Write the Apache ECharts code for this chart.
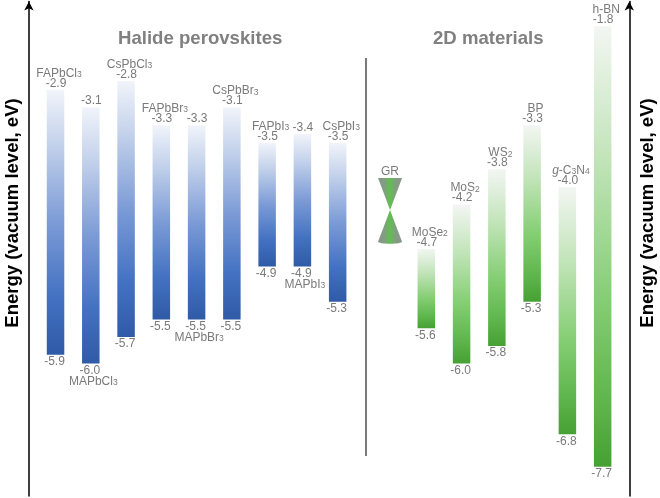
<!DOCTYPE html>
<html>
<head>
<meta charset="utf-8">
<style>html,body{margin:0;padding:0;background:#fff}#c{width:660px;height:498px}</style>
<script src="https://cdn.jsdelivr.net/npm/echarts@6/dist/echarts.min.js"></script>
</head>
<body>
<div id="c"></div>
<script>
// Halide perovskites
const perovskiteNames = ['FAPbCl{s|3}','MAPbCl{s|3}','CsPbCl{s|3}','FAPbBr{s|3}','MAPbBr{s|3}','CsPbBr{s|3}','FAPbI{s|3}','MAPbI{s|3}','CsPbI{s|3}'];
const perovskiteTops = [-2.9,-3.1,-2.8,-3.3,-3.3,-3.1,-3.5,-3.4,-3.5];
const perovskiteBottoms = [-5.9,-6.0,-5.7,-5.5,-5.5,-5.5,-4.9,-4.9,-5.3];
// 2D materials (first slot is graphene's cone, no band values)
const materialNames = ['GR','MoSe{s|2}','MoS{s|2}','WS{s|2}','BP','{i|g}-C{s|3}N{s|4}','h-BN'];
const materialTops = [null,-4.7,-4.2,-3.8,-3.3,-4.0,-1.8];
const materialBottoms = [null,-5.6,-6.0,-5.8,-5.3,-6.8,-7.7];
// The source draws h-BN off scale: its printed values are -1.8/-7.7, its bar spans these
const hBNDrawnExtent = [-2.18,-7.17];
// Graphene cone: rim, Dirac point, rim
const grapheneCone = [-3.9,-4.26,-4.62];
const sectionTitles = ['Halide perovskites','2D materials'];
const axisTitle = 'Energy (vacuum level, eV)';

const GREY = '#7a7a7a';
const FONT = '"Liberation Sans", Arial, sans-serif';
const BAR_W = 17.5;
const rich = {
  s:{fontSize:8.5,fontFamily:FONT,fill:GREY,verticalAlign:'bottom',lineHeight:12,padding:[4,0,0,0]},
  i:{fontSize:12,fontFamily:FONT,fill:GREY,fontStyle:'italic',lineHeight:12}
};
const blueStops = [[0,'#f1f4fa'],[0.22,'#c0cfea'],[0.5,'#7c9bd6'],[0.78,'#4472c2'],[1,'#2f5aa6']];
const greenStops = [[0,'#f3f6f3'],[0.3,'#c2e4b9'],[0.62,'#84ce73'],[0.85,'#5fb64d'],[1,'#46a033']];

function txt(x,y,t,size){
  return {type:'text',silent:true,style:{x,y,text:t,fill:GREY,fontSize:size||12,fontFamily:FONT,
    align:'center',verticalAlign:'middle',rich}};
}
function fmt(v){return v.toFixed(1);}

function bandRenderer(names,tops,bottoms,stops){
  return function(params,api){
    const i = params.dataIndex;
    const name = names[i];
    if(name==='GR') return coneItem(api,i);
    const isHBN = name==='h-BN';
    const tv = isHBN?hBNDrawnExtent[0]:tops[i];
    const bv = isHBN?hBNDrawnExtent[1]:bottoms[i];
    const pt = api.coord([i,tv]), pb = api.coord([i,bv]);
    const below = name.indexOf('MA')===0;
    const children = [{
      type:'rect',shape:{x:pt[0]-BAR_W/2,y:pt[1],width:BAR_W,height:pb[1]-pt[1]},
      style:{fill:new echarts.graphic.LinearGradient(0,0,0,1,stops.map(s=>({offset:s[0],color:s[1]})))}
    }];
    children.push(txt(pt[0]+0.5,pt[1]-6.5,fmt(tops[i])));
    children.push(txt(pb[0]-1,pb[1]+7,fmt(bottoms[i])));
    if(below) children.push(txt(pb[0]+2.5,pb[1]+18,name));
    else children.push(txt(pt[0]+3.5,pt[1]-16.5,name));
    return {type:'group',children};
  };
}
function coneItem(api,i){
  const c = api.coord([i,grapheneCone[1]]);
  const t = api.coord([i,grapheneCone[0]]);
  const b = api.coord([i,grapheneCone[2]]);
  const x = c[0]-1, w = 12;
  const grad = () => new echarts.graphic.LinearGradient(0,0,1,0,[
    {offset:0,color:'#8a948c'},{offset:0.3,color:'#7fa07f'},{offset:0.5,color:'#5cc24a'},{offset:0.7,color:'#7fa07f'},{offset:1,color:'#8a948c'}]);
  return {type:'group',children:[
    {type:'polygon',shape:{points:[[x-w,t[1]],[x+w,t[1]],[x,c[1]]]},style:{fill:grad()}},
    {type:'polygon',shape:{points:[[x-w,b[1]],[x+w,b[1]],[x,c[1]]]},style:{fill:grad()}},
    {type:'ellipse',shape:{cx:x,cy:b[1],rx:w,ry:2},style:{fill:grad()}},
    txt(x,t[1]-6.5,'GR')
  ]};
}
function rows(tops,bottoms){
  return tops.map((t,i)=>[i,t==null?grapheneCone[0]:t,bottoms[i]==null?grapheneCone[2]:bottoms[i]]);
}

const yBase = {type:'value',min:-7.5,max:-1.9,splitLine:{show:false},axisTick:{show:false},axisLabel:{show:false}};
const axisLine = {show:true,onZero:false,symbol:['none','arrow'],symbolSize:[7,9],lineStyle:{color:'#000',width:1.5}};

const chart = echarts.init(document.getElementById('c'),null,{renderer:'canvas'});
chart.setOption({
  animation:false,
  backgroundColor:'#fff',
  grid:[
    {left:37.9,width:317.4,top:1.5,height:494.5},
    {left:373.4,width:246.9,top:1.5,height:494.5}
  ],
  xAxis:[
    {type:'category',gridIndex:0,data:perovskiteNames,show:false},
    {type:'category',gridIndex:1,data:materialNames,show:false}
  ],
  yAxis:[
    Object.assign({},yBase,{gridIndex:0,position:'left',offset:9,axisLine}),
    Object.assign({},yBase,{gridIndex:1,position:'right',offset:9,axisLine})
  ],
  series:[
    {type:'custom',xAxisIndex:0,yAxisIndex:0,clip:false,encode:{x:0,y:[1,2]},
     data:rows(perovskiteTops,perovskiteBottoms),
     renderItem:bandRenderer(perovskiteNames,perovskiteTops,perovskiteBottoms,blueStops)},
    {type:'custom',xAxisIndex:1,yAxisIndex:1,clip:false,encode:{x:0,y:[1,2]},
     data:rows(materialTops,materialBottoms),
     renderItem:bandRenderer(materialNames,materialTops,materialBottoms,greenStops)}
  ],
  graphic:[
    {type:'text',left:118,top:29,silent:true,style:{text:sectionTitles[0],fill:'#808080',fontSize:18.6,fontWeight:'bold',fontFamily:FONT}},
    {type:'text',left:433,top:29,silent:true,style:{text:sectionTitles[1],fill:'#808080',fontSize:18.6,fontWeight:'bold',fontFamily:FONT}},
    {type:'line',silent:true,shape:{x1:366,y1:58,x2:366,y2:456},style:{stroke:'#222',lineWidth:1.2}},
    {type:'text',silent:true,x:13,y:213,rotation:Math.PI/2,style:{text:axisTitle,fill:'#000',fontSize:18.5,fontWeight:'bold',fontFamily:FONT,align:'center',verticalAlign:'middle'}},
    {type:'text',silent:true,x:648,y:213,rotation:Math.PI/2,style:{text:axisTitle,fill:'#000',fontSize:18.5,fontWeight:'bold',fontFamily:FONT,align:'center',verticalAlign:'middle'}}
  ]
});
</script>
</body>
</html>
